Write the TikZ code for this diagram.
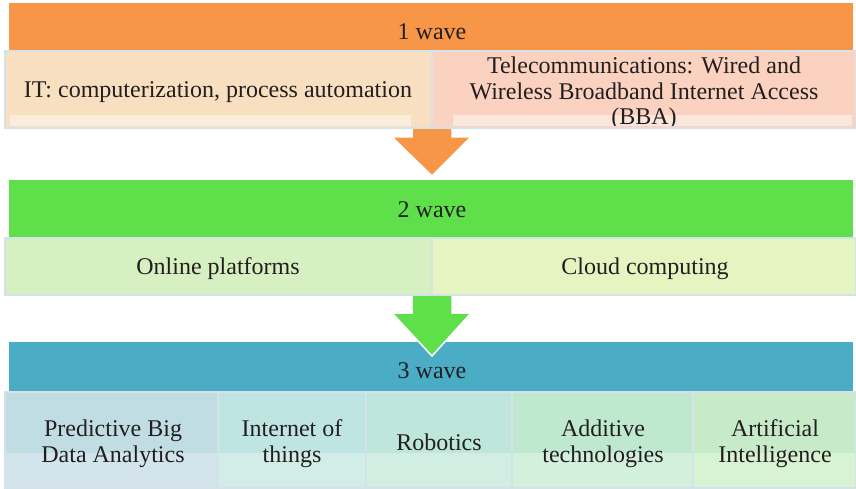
\documentclass[tikz,border=0pt]{standalone}
\usepackage{fontspec}
\setmainfont{Liberation Serif}
\definecolor{orH}{HTML}{F79646}
\definecolor{grH}{HTML}{5FE04A}
\definecolor{blH}{HTML}{4BACC6}
\definecolor{bord}{HTML}{D3E3E9}
\definecolor{itc}{HTML}{F7DFBF}
\definecolor{tel}{HTML}{FAD2BF}
\definecolor{onl}{HTML}{D6F0C1}
\definecolor{clo}{HTML}{E5F4C1}
\definecolor{cA}{HTML}{C0DDE4}\definecolor{cAl}{HTML}{D3E4EA}
\definecolor{cB}{HTML}{BFE5E3}\definecolor{cBl}{HTML}{D2EDE8}
\definecolor{cC}{HTML}{BFE6DA}\definecolor{cCl}{HTML}{D2EEE3}
\definecolor{cD}{HTML}{BFE9CF}\definecolor{cDl}{HTML}{D2F0DC}
\definecolor{cE}{HTML}{C7EBC8}\definecolor{cEl}{HTML}{D7F3D2}
\definecolor{txt}{HTML}{231F20}
\begin{document}
\begin{tikzpicture}[x=1pt,y=-1pt,
  lbl/.style={anchor=base, align=center, inner sep=0pt, text=txt, font=\fontsize{24}{25.5}\selectfont},
  cellb/.style={draw=bord, line width=2.5pt},
  blockarrow/.style={draw=white, line width=1.5pt, line join=miter}]
\useasboundingbox (0,0) rectangle (856,489);
% headers
\fill[orH] (9,3) rectangle (853,51);
\fill[grH] (9,180) rectangle (853,238);
\fill[blH] (9,342) rectangle (853,392);
% block arrows
\coordinate (a1t) at (432,176);
\coordinate (a2t) at (432,356);
\filldraw[blockarrow, fill=orH] (412,100) -- (452,100) -- (452,137) -- (471,137) -- (a1t) -- (392,137) -- (412,137) -- cycle;
\filldraw[blockarrow, fill=grH] (412,280) -- (452,280) -- (452,313) -- (471,313) -- (a2t) -- (392,313) -- (412,313) -- cycle;
% wave 1 cells
\fill[itc] (5,51) rectangle (432,128);
\fill[tel] (432,51) rectangle (856,128);
\draw[cellb] (5,51) rectangle (432,128);
\draw[cellb] (432,51) rectangle (856,128);
\fill[white, opacity=0.45] (10,115) rectangle (411,126);
\fill[white, opacity=0.45] (453,115) rectangle (852,126);
% wave 2 cells
\fill[onl] (5,238) rectangle (432,295);
\fill[clo] (432,238) rectangle (856,295);
\draw[cellb] (5,238) rectangle (432,295);
\draw[cellb] (432,238) rectangle (856,295);
% wave 3 cells
\fill[cA] (5,392) rectangle (218,488);  \fill[cAl] (5,453) rectangle (218,488);
\fill[cB] (218,392) rectangle (366,488); \fill[cBl] (218,453) rectangle (366,488);
\fill[cC] (366,392) rectangle (512,488); \fill[cCl] (366,453) rectangle (512,488);
\fill[cD] (512,392) rectangle (693,488); \fill[cDl] (512,453) rectangle (693,488);
\fill[cE] (693,392) rectangle (856,488); \fill[cEl] (693,453) rectangle (856,488);
\foreach \a/\b in {5/218,218/366,366/512,512/693,693/856}
  \draw[cellb] (\a,392) rectangle (\b,488);
% texts
\node[lbl] (w1) at (432,40) {1 wave};
\node[lbl] (it) at (218,98) {IT: computerization, process automation};
\begin{scope}
\clip (432,51) rectangle (856,126);
\node[lbl] (tel) at (644,125) {Telecommunications: Wired and\\Wireless Broadband Internet Access\\(BBA)};
\end{scope}
\node[lbl] (w2) at (432,217) {2 wave};
\node[lbl] (onl) at (218,274) {Online platforms};
\node[lbl] (clo) at (645,274) {Cloud computing};
\node[lbl] (w3) at (432,378) {3 wave};
\node[lbl] (pb) at (113,462) {Predictive Big\\Data Analytics};
\node[lbl] (iot) at (292,462) {Internet of\\things};
\node[lbl] (rob) at (439,450) {Robotics};
\node[lbl] (add) at (603,462) {Additive\\technologies};
\node[lbl] (ai) at (775,462) {Artificial\\Intelligence};
\end{tikzpicture}
\end{document}
